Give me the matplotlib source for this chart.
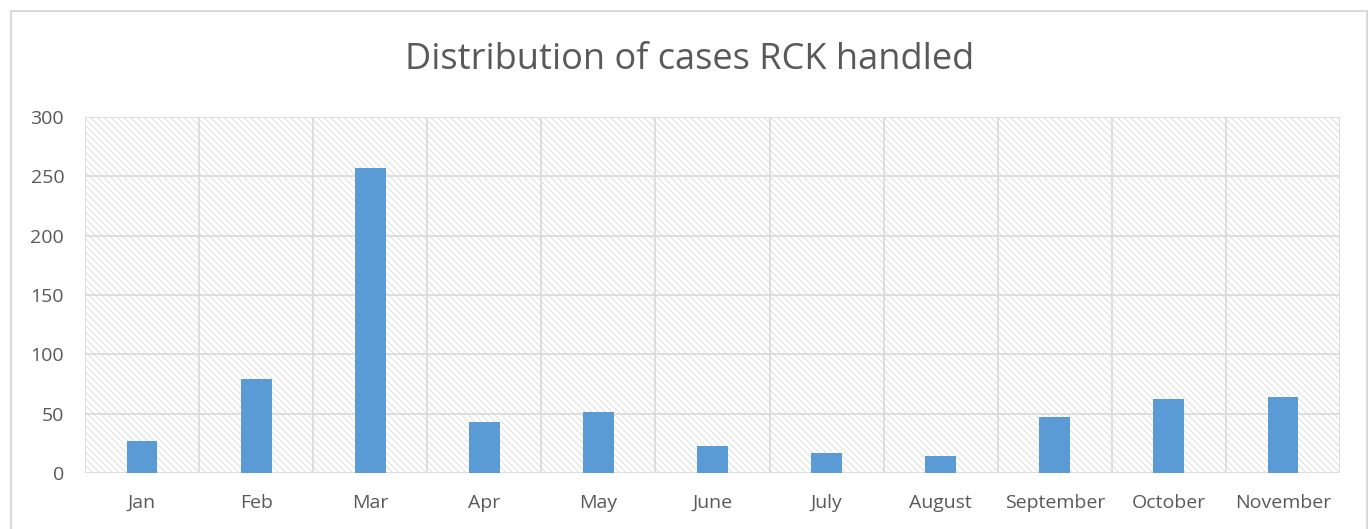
import matplotlib.pyplot as plt
from matplotlib.patches import Rectangle
import numpy as np

plt.rcParams['font.family'] = ['Open Sans', 'DejaVu Sans']
plt.rcParams['hatch.linewidth'] = 0.6

# data
months = ["Jan", "Feb", "Mar", "Apr", "May", "June", "July",
          "August", "September", "October", "November"]
cases = [27, 79, 257, 43, 51, 23, 17, 14, 47, 62, 64]
yticks = [0, 50, 100, 150, 200, 250, 300]

grid_col = "#d9d9d9"
text_col = "#595959"
bar_col = "#5b9bd5"

fig = plt.figure(figsize=(13.7, 5.29), dpi=100)
ax = fig.add_axes([85 / 1370, 1 - 473 / 529, 1255 / 1370, 356 / 529])

# hatched plot-area background
ax.patch.set_facecolor("white")
bg = Rectangle((0, 0), 1, 1, transform=ax.transAxes, facecolor="white",
               edgecolor=grid_col, hatch="\\\\\\\\\\", linewidth=0, zorder=0)
ax.add_patch(bg)

x = np.arange(len(months))
ax.bar(x, cases, width=0.27, color=bar_col, zorder=3)

ax.set_xlim(-0.5, len(months) - 0.5)
ax.set_ylim(0, 300)
ax.set_yticks(yticks)
ax.set_xticks(x)
ax.set_xticklabels(months)

# grid lines: horizontal at ticks, vertical between categories
for y in yticks:
    ax.axhline(y, color=grid_col, lw=1.2, zorder=1)
for xv in np.arange(-0.5, len(months), 1.0):
    ax.axvline(xv, color=grid_col, lw=1.2, zorder=1)

for s in ax.spines.values():
    s.set_visible(False)
ax.tick_params(length=0, labelsize=14, colors=text_col)
ax.tick_params(axis="x", pad=15)
ax.tick_params(axis="y", pad=15)

fig.text(690 / 1370, 1 - 60 / 529, "Distribution of cases RCK handled",
         ha="center", va="center", fontsize=26, color=text_col)

# outer chart border
fig.patches.append(Rectangle((11 / 1370, -0.01), 1356 / 1370, 1 - 11 / 529 + 0.01,
                             transform=fig.transFigure, fill=False,
                             edgecolor=grid_col, lw=1.5))

fig.savefig("out.png", dpi=100)
